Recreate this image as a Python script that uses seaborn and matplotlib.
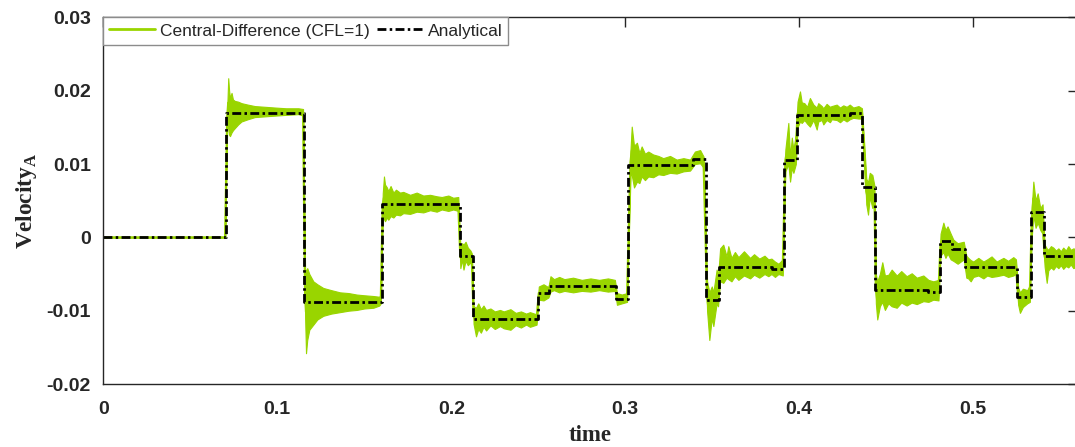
import matplotlib
matplotlib.use("Agg")
import matplotlib.pyplot as plt
from matplotlib.lines import Line2D
import seaborn as sns
import pandas as pd

# ---------------- data ----------------
# analytical solution: piecewise constant, value holds from each time to the next
step_times = [0.0, 0.0703, 0.1154, 0.1600, 0.2048, 0.2122, 0.2497, 0.2564,
              0.2946, 0.3016, 0.3391, 0.3465, 0.3536, 0.3843, 0.3914, 0.3985,
              0.4292, 0.4361, 0.4434, 0.4737, 0.4806, 0.4880, 0.4955, 0.5252,
              0.5331, 0.5404, 0.5600]
step_values = [0.0, 0.0170, -0.0088, 0.0046, -0.0025, -0.0112, -0.0076, -0.0066,
               -0.0084, 0.0099, 0.0107, -0.0085, -0.0040, -0.0043, 0.0105, 0.0167,
               0.0169, 0.0068, -0.0072, -0.0074, -0.0005, -0.0016, -0.0041, -0.0082,
               0.0035, -0.0026, -0.0026]

# central-difference result: min / max envelope of the oscillating signal
cd_time = [
    0.0000, 0.0700,
    0.0712, 0.0718, 0.0723, 0.0728, 0.0737, 0.0745, 0.0756, 0.0775, 0.0794, 0.0830, 0.0871, 0.0930, 0.0987, 0.1050, 0.1121, 0.1148,
    0.1160, 0.1165, 0.1172, 0.1184, 0.1207, 0.1230, 0.1264, 0.1310, 0.1360, 0.1410, 0.1456, 0.1500, 0.1552, 0.1586, 0.1595,
    0.1606, 0.1613, 0.1619, 0.1630, 0.1638, 0.1651, 0.1667, 0.1682, 0.1705, 0.1724, 0.1763, 0.1801, 0.1839, 0.1878, 0.1916, 0.1945, 0.1983, 0.2011, 0.2040,
    0.2052, 0.2062, 0.2070, 0.2082, 0.2095, 0.2110, 0.2118,
    0.2128, 0.2142, 0.2155, 0.2170, 0.2185, 0.2200, 0.2225, 0.2250, 0.2280, 0.2301, 0.2340, 0.2370, 0.2400, 0.2430, 0.2452, 0.2490,
    0.2503, 0.2530, 0.2558,
    0.2570, 0.2590, 0.2620, 0.2650, 0.2700, 0.2750, 0.2800, 0.2850, 0.2900, 0.2940,
    0.2952, 0.2980, 0.3010,
    0.3030, 0.3037, 0.3050, 0.3067, 0.3081, 0.3094, 0.3113, 0.3132, 0.3160, 0.3190, 0.3218, 0.3257, 0.3295, 0.3334, 0.3372,
    0.3400, 0.3430, 0.3450,
    0.3470, 0.3483, 0.3497, 0.3506, 0.3525, 0.3533,
    0.3545, 0.3563, 0.3582, 0.3592, 0.3610, 0.3630, 0.3650, 0.3682, 0.3717, 0.3740, 0.3770, 0.3800, 0.3822, 0.3840,
    0.3860, 0.3880, 0.3905,
    0.3920, 0.3937, 0.3947, 0.3957, 0.3966, 0.3980,
    0.3990, 0.4004, 0.4014, 0.4029, 0.4045, 0.4061, 0.4081, 0.4100, 0.4109, 0.4129, 0.4138, 0.4157, 0.4176, 0.4186, 0.4215, 0.4234, 0.4253, 0.4272, 0.4290, 0.4310, 0.4340, 0.4360, 0.4375,
    0.4385, 0.4395, 0.4405, 0.4420, 0.4432,
    0.4440, 0.4448, 0.4463, 0.4477, 0.4492, 0.4512, 0.4531, 0.4560, 0.4586, 0.4617, 0.4646, 0.4675, 0.4713, 0.4742, 0.4770, 0.4800,
    0.4812, 0.4828, 0.4840, 0.4852, 0.4870,
    0.4885, 0.4910, 0.4945,
    0.4960, 0.4971, 0.4985, 0.5000, 0.5029, 0.5058, 0.5080, 0.5105, 0.5134, 0.5173, 0.5200, 0.5230, 0.5245,
    0.5258, 0.5268, 0.5285, 0.5310, 0.5325,
    0.5336, 0.5345, 0.5358, 0.5370, 0.5385, 0.5398,
    0.5410, 0.5422, 0.5431, 0.5446, 0.5460, 0.5475, 0.5489, 0.5503, 0.5517, 0.5532, 0.5546, 0.5560, 0.5575, 0.5600,
]
cd_upper = [
    0.0000, 0.0000,
    0.0175, 0.0217, 0.0200, 0.0190, 0.0197, 0.0188, 0.0186, 0.0185, 0.0183, 0.0181, 0.0179, 0.0178, 0.0177, 0.0176, 0.0176, 0.0175,
    -0.0050, -0.0045, -0.0042, -0.0050, -0.0060, -0.0064, -0.0069, -0.0072, -0.0075, -0.0076, -0.0078, -0.0079, -0.0080, -0.0081, -0.0078,
    0.0060, 0.0083, 0.0072, 0.0068, 0.0063, 0.0070, 0.0061, 0.0065, 0.0061, 0.0062, 0.0058, 0.0061, 0.0057, 0.0058, 0.0056, 0.0055, 0.0057, 0.0054, 0.0055,
    -0.0012, -0.0008, -0.0010, -0.0006, -0.0014, -0.0018, -0.0022,
    -0.0094, -0.0096, -0.0090, -0.0098, -0.0093, -0.0099, -0.0097, -0.0101, -0.0099, -0.0101, -0.0098, -0.0103, -0.0101, -0.0104, -0.0102, -0.0105,
    -0.0067, -0.0064, -0.0068,
    -0.0053, -0.0057, -0.0054, -0.0057, -0.0055, -0.0058, -0.0056, -0.0058, -0.0056, -0.0058,
    -0.0076, -0.0078, -0.0076,
    0.0120, 0.0151, 0.0125, 0.0129, 0.0115, 0.0124, 0.0114, 0.0117, 0.0113, 0.0111, 0.0108, 0.0111, 0.0106, 0.0108, 0.0106,
    0.0117, 0.0119, 0.0110,
    -0.0060, -0.0075, -0.0067, -0.0075, -0.0044, -0.0055,
    -0.0015, -0.0010, -0.0026, -0.0012, -0.0028, -0.0020, -0.0027, -0.0019, -0.0028, -0.0023, -0.0029, -0.0025, -0.0030, -0.0029,
    -0.0033, -0.0036, -0.0030,
    0.0120, 0.0156, 0.0110, 0.0136, 0.0120, 0.0140,
    0.0185, 0.0199, 0.0184, 0.0183, 0.0178, 0.0190, 0.0181, 0.0177, 0.0183, 0.0179, 0.0176, 0.0182, 0.0178, 0.0179, 0.0181, 0.0177, 0.0180, 0.0178, 0.0181, 0.0177, 0.0179, 0.0176, 0.0120,
    0.0080, 0.0075, 0.0088, 0.0085, 0.0070,
    -0.0050, -0.0060, -0.0050, -0.0034, -0.0052, -0.0051, -0.0044, -0.0052, -0.0046, -0.0053, -0.0049, -0.0055, -0.0052, -0.0058, -0.0060, -0.0058,
    0.0005, 0.0020, 0.0010, 0.0015, 0.0005,
    -0.0003, -0.0008, -0.0006,
    -0.0025, -0.0028, -0.0031, -0.0033, -0.0028, -0.0033, -0.0030, -0.0026, -0.0033, -0.0028, -0.0032, -0.0027, -0.0030,
    -0.0068, -0.0075, -0.0070, -0.0072, -0.0065,
    0.0040, 0.0076, 0.0050, 0.0060, 0.0040, 0.0045,
    -0.0010, -0.0015, -0.0017, -0.0012, -0.0014, -0.0018, -0.0015, -0.0019, -0.0014, -0.0018, -0.0012, -0.0017, -0.0015, -0.0017,
]
cd_lower = [
    0.0000, 0.0000,
    0.0150, 0.0150, 0.0140, 0.0138, 0.0143, 0.0146, 0.0149, 0.0154, 0.0158, 0.0161, 0.0164, 0.0165, 0.0166, 0.0167, 0.0168, 0.0166,
    -0.0110, -0.0158, -0.0140, -0.0126, -0.0119, -0.0112, -0.0107, -0.0104, -0.0102, -0.0100, -0.0099, -0.0097, -0.0096, -0.0093, -0.0090,
    0.0030, 0.0025, 0.0022, 0.0027, 0.0024, 0.0029, 0.0027, 0.0031, 0.0030, 0.0033, 0.0032, 0.0035, 0.0034, 0.0037, 0.0035, 0.0038, 0.0036, 0.0038, 0.0036,
    -0.0042, -0.0030, -0.0044, -0.0032, -0.0038, -0.0034, -0.0040,
    -0.0118, -0.0135, -0.0125, -0.0130, -0.0122, -0.0127, -0.0120, -0.0125, -0.0121, -0.0124, -0.0126, -0.0120, -0.0123, -0.0119, -0.0122, -0.0119,
    -0.0085, -0.0086, -0.0082,
    -0.0074, -0.0072, -0.0075, -0.0073, -0.0075, -0.0073, -0.0074, -0.0072, -0.0074, -0.0073,
    -0.0092, -0.0090, -0.0088,
    0.0085, 0.0085, 0.0068, 0.0076, 0.0074, 0.0083, 0.0078, 0.0083, 0.0082, 0.0086, 0.0085, 0.0088, 0.0087, 0.0090, 0.0091,
    0.0100, 0.0101, 0.0095,
    -0.0100, -0.0140, -0.0110, -0.0121, -0.0090, -0.0094,
    -0.0060, -0.0062, -0.0055, -0.0057, -0.0060, -0.0053, -0.0058, -0.0052, -0.0056, -0.0051, -0.0055, -0.0050, -0.0053, -0.0050,
    -0.0054, -0.0050, -0.0052,
    0.0090, 0.0100, 0.0076, 0.0095, 0.0088, 0.0100,
    0.0150, 0.0158, 0.0156, 0.0160, 0.0155, 0.0151, 0.0160, 0.0147, 0.0158, 0.0160, 0.0154, 0.0160, 0.0157, 0.0161, 0.0160, 0.0157, 0.0161, 0.0158, 0.0161, 0.0163, 0.0162, 0.0162, 0.0100,
    0.0045, 0.0031, 0.0055, 0.0040, 0.0045,
    -0.0090, -0.0112, -0.0094, -0.0088, -0.0099, -0.0090, -0.0094, -0.0096, -0.0089, -0.0093, -0.0089, -0.0091, -0.0087, -0.0088, -0.0085, -0.0086,
    -0.0025, -0.0020, -0.0028, -0.0022, -0.0030,
    -0.0032, -0.0036, -0.0030,
    -0.0055, -0.0056, -0.0060, -0.0054, -0.0052, -0.0056, -0.0052, -0.0054, -0.0053, -0.0051, -0.0054, -0.0052, -0.0050,
    -0.0092, -0.0103, -0.0095, -0.0090, -0.0088,
    0.0000, 0.0030, 0.0013, 0.0020, 0.0010, 0.0005,
    -0.0040, -0.0062, -0.0045, -0.0041, -0.0044, -0.0039, -0.0042, -0.0038, -0.0043, -0.0039, -0.0041, -0.0037, -0.0042, -0.0039,
]
assert len(cd_time) == len(cd_upper) == len(cd_lower)

xticks = [0, 0.1, 0.2, 0.3, 0.4, 0.5]
xtick_labels = ["0", "0.1", "0.2", "0.3", "0.4", "0.5"]
yticks = [-0.02, -0.01, 0, 0.01, 0.02, 0.03]
ytick_labels = ["-0.02", "-0.01", "0", "0.01", "0.02", "0.03"]
series_names = ["Central-Difference (CFL=1)", "Analytical"]

# ---------------- styling ----------------
sns.set_theme(style="white")
plt.rcParams["font.family"] = ["Liberation Sans", "DejaVu Sans"]
plt.rcParams["mathtext.fontset"] = "custom"
plt.rcParams["mathtext.rm"] = "Liberation Serif:bold"
plt.rcParams["mathtext.bf"] = "Liberation Serif:bold"

GREEN = "#99D500"
AX_COL = "#262626"

fig = plt.figure(figsize=(10.75, 4.47), dpi=100)
ax = fig.add_axes([0.0961, 0.1409, 0.9064, 0.8203])

# long-form table of the envelope -> seaborn draws the min/max band
env = pd.DataFrame({
    "time": cd_time + cd_time,
    "v": cd_upper + cd_lower,
})
sns.lineplot(data=env, x="time", y="v", estimator="mean", errorbar=("pi", 100),
             color=GREEN, linewidth=1.6, ax=ax,
             err_kws={"alpha": 1.0, "linewidth": 0.8, "edgecolor": GREEN})

ana = pd.DataFrame({"time": step_times, "v": step_values})
sns.lineplot(data=ana, x="time", y="v", color="black", linewidth=2.0,
             drawstyle="steps-post", ax=ax, errorbar=None)
ax.lines[-1].set_dashes([3.2, 1.2, 0.9, 1.2])

ax.set_xlim(0, 0.56)
ax.set_ylim(-0.02, 0.03)
ax.set_xticks(xticks)
ax.set_xticklabels(xtick_labels)
ax.set_yticks(yticks)
ax.set_yticklabels(ytick_labels)

for s in ax.spines.values():
    s.set_visible(True)
    s.set_color(AX_COL)
    s.set_linewidth(1.0)

ax.tick_params(axis="both", which="major", direction="in", length=7.5, width=1.0,
               colors=AX_COL, top=True, right=True, labelsize=14)
ax.tick_params(axis="x", pad=12)
ax.tick_params(axis="y", pad=9)
for lab in ax.get_xticklabels() + ax.get_yticklabels():
    lab.set_fontweight("bold")
    lab.set_color(AX_COL)

ax.set_xlabel("time", fontsize=16.5, fontweight="bold", family="Liberation Serif",
              color=AX_COL)
ax.set_ylabel(r"Velocity$_{\mathbf{A}}$", fontsize=17, fontweight="bold",
              family="Liberation Serif", color=AX_COL)
ax.xaxis.set_label_coords(0.5, -0.112)
ax.yaxis.set_label_coords(-0.066, 0.5)

handles = [Line2D([], [], color=GREEN, linewidth=2.0),
           Line2D([], [], color="black", linewidth=2.0, dashes=[3.2, 1.2, 0.9, 1.2])]
leg = ax.legend(handles, series_names, loc="upper left", ncol=2, fontsize=12.5,
                frameon=True, fancybox=False, borderaxespad=0.0, borderpad=0.35,
                handlelength=2.6, handletextpad=0.3, columnspacing=0.45)
leg.get_frame().set_edgecolor("#8c8c8c")
leg.get_frame().set_linewidth(1.0)
leg.get_frame().set_alpha(1.0)
for t in leg.get_texts():
    t.set_color(AX_COL)

fig.savefig("out.png", dpi=100)
